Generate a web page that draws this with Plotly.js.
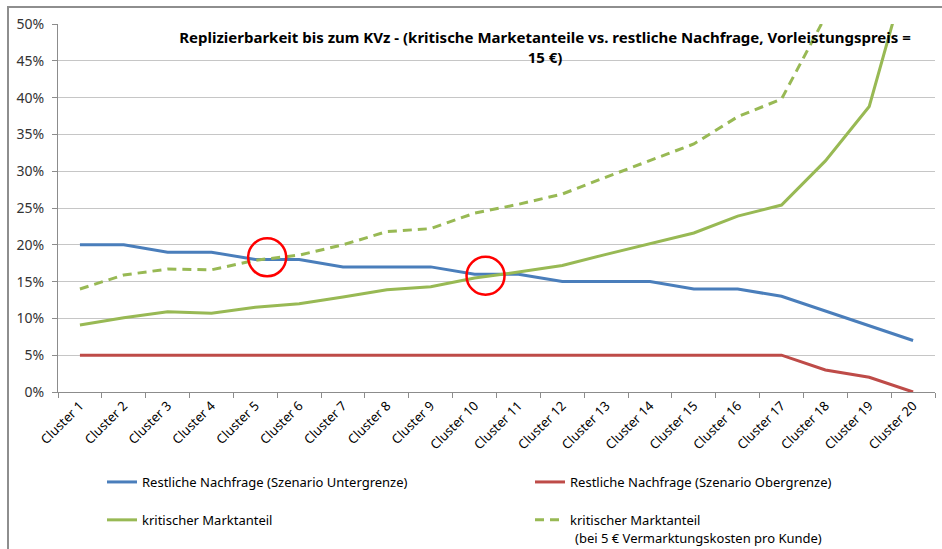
<!DOCTYPE html>
<html>
<head>
<meta charset="utf-8">
<script src="https://cdn.plot.ly/plotly-3.0.1.min.js"></script>
<style>
  html, body { margin: 0; padding: 0; background: #fff; }
  #wrap { position: relative; width: 942px; height: 549px; overflow: hidden; }
  #chart { position: absolute; left: 0; top: 0; width: 942px; height: 549px; }
  #frame { position: absolute; left: 7px; top: 6px; width: 960px; height: 600px;
           border-left: 2px solid #8e8e8e; border-top: 2px solid #8e8e8e; pointer-events: none; }
</style>
</head>
<body>
<div id="wrap">
  <div id="chart"></div>
  <div id="frame"></div>
</div>
<script>
const categories = ["Cluster 1","Cluster 2","Cluster 3","Cluster 4","Cluster 5","Cluster 6","Cluster 7","Cluster 8","Cluster 9","Cluster 10",
  "Cluster 11","Cluster 12","Cluster 13","Cluster 14","Cluster 15","Cluster 16","Cluster 17","Cluster 18","Cluster 19","Cluster 20"];
const restNachfrageUnter = [20,20,19,19,18,18,17,17,17,16,16,15,15,15,14,14,13,11,9,7];
const restNachfrageOber  = [5,5,5,5,5,5,5,5,5,5,5,5,5,5,5,5,5,3,2,0];
const kritMarktanteil    = [9.1,10.1,10.9,10.7,11.5,12.0,12.9,13.9,14.3,15.5,16.3,17.2,18.7,20.2,21.6,23.9,25.4,31.4,38.8,60];
const kritMarktanteilVK  = [14.0,15.9,16.7,16.6,17.9,18.6,20.0,21.8,22.2,24.3,25.5,26.9,29.2,31.4,33.7,37.4,39.8,51,65,90];
const yTickVals = [0,5,10,15,20,25,30,35,40,45,50];
const yTickText = ["0%","5%","10%","15%","20%","25%","30%","35%","40%","45%","50%"];
const titleText = "Replizierbarkeit bis zum KVz - (kritische Marketanteile vs. restliche Nachfrage, Vorleistungspreis =<br>15 €)";
const names = ["Restliche Nachfrage (Szenario Untergrenze)","Restliche Nachfrage (Szenario Obergrenze)","kritischer Marktanteil","kritischer Marktanteil"];
const legendNote = "(bei 5 € Vermarktungskosten pro Kunde)";
// highlighted intersections: [category position, value]
const circles = [[4.27, 18.3], [9.25, 15.8]];

const FONT = "Noto Sans, Open Sans, sans-serif";
const traces = [
  {x: categories, y: restNachfrageUnter, name: names[0], type: "scatter", mode: "lines",
   line: {color: "#4a7ebb", width: 3}, legend: "legend", legendgroup: "a"},
  {x: categories, y: kritMarktanteil, name: names[2], type: "scatter", mode: "lines",
   line: {color: "#98b954", width: 3}, legend: "legend", legendgroup: "b"},
  {x: categories, y: restNachfrageOber, name: names[1], type: "scatter", mode: "lines",
   line: {color: "#be4b48", width: 3}, legend: "legend2", legendgroup: "c"},
  {x: categories, y: kritMarktanteilVK, name: names[3], type: "scatter", mode: "lines",
   line: {color: "#98b954", width: 3, dash: "9px,6px"}, legend: "legend2", legendgroup: "d"}
];

const shapes = circles.map(c => ({
  type: "circle", xref: "x", yref: "y", xsizemode: "pixel", ysizemode: "pixel",
  xanchor: c[0], yanchor: c[1], x0: -19, x1: 19, y0: -19, y1: 19,
  line: {color: "#ff0000", width: 2.5}, layer: "above"
}));

const legendCommon = {
  orientation: "v", yanchor: "top", xanchor: "left", traceorder: "grouped", tracegroupgap: 18,
  font: {family: FONT, size: 13, color: "#000"}, bgcolor: "rgba(0,0,0,0)", itemclick: false
};

const layout = {
  width: 942, height: 549,
  margin: {l: 58, r: 7, t: 24, b: 157},
  paper_bgcolor: "#ffffff", plot_bgcolor: "#ffffff",
  font: {family: FONT, size: 13, color: "#333"},
  title: {text: titleText, x: 545/942, xanchor: "center", xref: "container",
          y: 1 - 43/549, yanchor: "top", yref: "container",
          font: {family: FONT, size: 15, color: "#000", weight: "bold"}},
  xaxis: {type: "category", range: [-0.5, 19.5], tickson: "boundaries", ticks: "outside", ticklen: 5, tickcolor: "#8c8c8c",
          tickangle: -45, showline: true, linecolor: "#8c8c8c", linewidth: 1, showgrid: false,
          tickfont: {family: FONT, size: 13, color: "#000"}, fixedrange: true},
  yaxis: {range: [0, 50], tickvals: yTickVals, ticktext: yTickText, ticks: "outside", ticklen: 5,
          ticklabelstandoff: 5,
          tickcolor: "#8c8c8c", showline: true, linecolor: "#8c8c8c", linewidth: 1,
          showgrid: true, gridcolor: "#c6c6c6", gridwidth: 1, zeroline: false,
          tickfont: {family: FONT, size: 14, color: "#333"}, fixedrange: true},
  showlegend: true,
  legend: Object.assign({}, legendCommon, {x: (102-58)/877, y: (392-467)/368}),
  legend2: Object.assign({}, legendCommon, {x: (530-58)/877, y: (392-467)/368}),
  shapes: shapes,
  annotations: [{text: legendNote, xref: "paper", yref: "paper", x: (573-58)/877, y: (392-537.5)/368,
                 xanchor: "left", yanchor: "middle", showarrow: false,
                 font: {family: FONT, size: 13, color: "#000"}}]
};

Plotly.newPlot("chart", traces, layout, {displayModeBar: false, staticPlot: false});
</script>
</body>
</html>
